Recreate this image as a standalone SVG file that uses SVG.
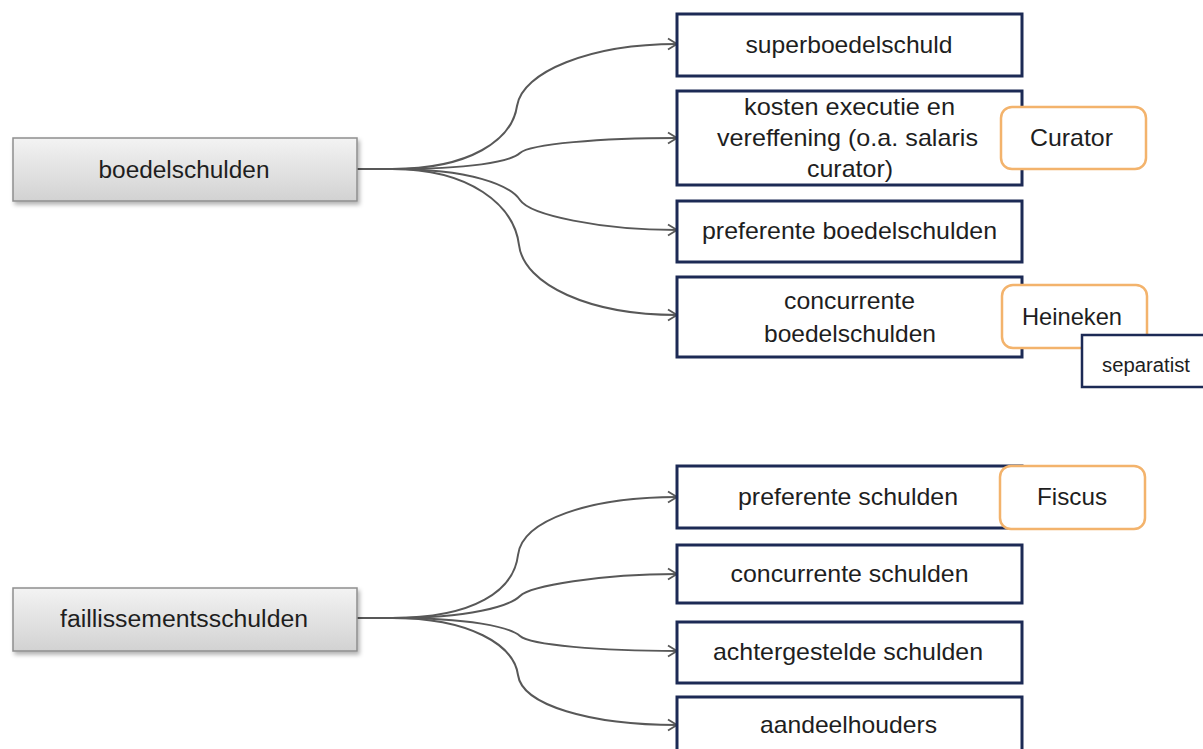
<svg xmlns="http://www.w3.org/2000/svg" width="1203" height="749" viewBox="0 0 1203 749">
<style>
text{font-family:"Liberation Sans",Arial,sans-serif;fill:#1e1e1e;text-anchor:middle}
.t{font-size:24px}
.s{font-size:20px}
.l{font-size:23px}
.nav{fill:#fff;stroke:#1c2a55;stroke-width:3}
.org{fill:#fff;stroke:#f3b36c;stroke-width:2.5}
.par{fill:url(#gr);stroke:#8e8e8e;stroke-width:1.5;filter:url(#sh)}
.c{fill:none;stroke:#585858;stroke-width:2;marker-end:url(#ar)}
</style>
<defs>
<linearGradient id="gr" x1="0" y1="0" x2="0" y2="1">
<stop offset="0" stop-color="#f3f3f3"/>
<stop offset="1" stop-color="#d2d2d2"/>
</linearGradient>
<filter id="sh" x="-5%" y="-10%" width="115%" height="140%">
<feDropShadow dx="2" dy="3" stdDeviation="2" flood-color="#000" flood-opacity="0.3"/>
</filter>
<marker id="ar" markerUnits="userSpaceOnUse" markerWidth="14" markerHeight="14" viewBox="0 0 14 14" refX="12" refY="7" orient="auto">
<path d="M3,1.5 L12,7 L3,12.5" fill="none" stroke="#585858" stroke-width="1.8"/>
</marker>
</defs>
<rect width="1203" height="749" fill="#fff"/>
<g id="connectors">
<path class="c" d="M357,169 L392,169 C470,169 512,140 517,106 C522,72 590,44 677,44"/>
<path class="c" d="M357,169 L392,169 C470,169 510,162 520,153 C530,144 600,138 677,138"/>
<path class="c" d="M357,169 L392,169 C470,169 510,185 520,200 C530,215 600,230 677,230"/>
<path class="c" d="M357,169 L392,169 C470,169 514,205 519,245 C524,285 590,315 677,315"/>
<path class="c" d="M357,618 L392,618 C475,618 514,590 518,555 C522,520 590,497 677,497"/>
<path class="c" d="M357,618 L392,618 C470,618 510,606 520,596 C530,586 600,574 677,574"/>
<path class="c" d="M357,618 L392,618 C470,618 510,627 520,636 C530,645 600,651 677,651"/>
<path class="c" d="M357,618 L392,618 C470,618 514,645 518,675 C522,705 590,725 677,725"/>
</g>
<g id="boedelschulden">
<rect class="par" x="13" y="138" width="344" height="63"/>
<text class="l" x="184" y="178" textLength="171" lengthAdjust="spacingAndGlyphs">boedelschulden</text>
</g>
<g id="faillissementsschulden">
<rect class="par" x="13" y="588" width="344" height="63"/>
<text class="l" x="184" y="627" textLength="248" lengthAdjust="spacingAndGlyphs">faillissementsschulden</text>
</g>
<g id="superboedelschuld">
<rect class="nav" x="677" y="14" width="345" height="62"/>
<text class="t" x="849" y="53" textLength="207" lengthAdjust="spacingAndGlyphs">superboedelschuld</text>
</g>
<g id="kosten">
<rect class="nav" x="677" y="91" width="345" height="94"/>
<text class="t" x="849.5" y="115" textLength="211" lengthAdjust="spacingAndGlyphs">kosten executie en</text>
<text class="t" x="847.5" y="146" textLength="261" lengthAdjust="spacingAndGlyphs">vereffening (o.a. salaris</text>
<text class="t" x="850" y="177" textLength="86" lengthAdjust="spacingAndGlyphs">curator)</text>
</g>
<g id="curator">
<rect class="org" x="1001" y="107" width="145" height="62" rx="11"/>
<text class="t" x="1071.5" y="146" textLength="83" lengthAdjust="spacingAndGlyphs">Curator</text>
</g>
<g id="preferente-boedelschulden">
<rect class="nav" x="677" y="201" width="345" height="61"/>
<text class="t" x="849.5" y="239" textLength="295" lengthAdjust="spacingAndGlyphs">preferente boedelschulden</text>
</g>
<g id="concurrente-boedelschulden">
<rect class="nav" x="677" y="277" width="345" height="80"/>
<text class="t" x="849.5" y="309" textLength="131" lengthAdjust="spacingAndGlyphs">concurrente</text>
<text class="t" x="850" y="342" textLength="172" lengthAdjust="spacingAndGlyphs">boedelschulden</text>
</g>
<g id="heineken">
<rect class="org" x="1002" y="285" width="145" height="63" rx="11"/>
<text class="t" x="1072" y="325" textLength="100" lengthAdjust="spacingAndGlyphs">Heineken</text>
</g>
<g id="separatist">
<rect class="nav" x="1082" y="335" width="130" height="52" style="stroke-width:2.5"/>
<text class="s" x="1146" y="372" textLength="88" lengthAdjust="spacingAndGlyphs">separatist</text>
</g>
<g id="preferente-schulden">
<rect class="nav" x="677" y="466" width="345" height="62"/>
<text class="t" x="848" y="505" textLength="220" lengthAdjust="spacingAndGlyphs">preferente schulden</text>
</g>
<g id="fiscus">
<rect class="org" x="1000" y="466" width="145" height="63" rx="11"/>
<text class="t" x="1072" y="505" textLength="70" lengthAdjust="spacingAndGlyphs">Fiscus</text>
</g>
<g id="concurrente-schulden">
<rect class="nav" x="677" y="545" width="345" height="58"/>
<text class="t" x="849.5" y="582" textLength="238" lengthAdjust="spacingAndGlyphs">concurrente schulden</text>
</g>
<g id="achtergestelde-schulden">
<rect class="nav" x="677" y="622" width="345" height="61"/>
<text class="t" x="848" y="660" textLength="270" lengthAdjust="spacingAndGlyphs">achtergestelde schulden</text>
</g>
<g id="aandeelhouders">
<rect class="nav" x="677" y="697" width="345" height="70"/>
<text class="t" x="848.5" y="733" textLength="177" lengthAdjust="spacingAndGlyphs">aandeelhouders</text>
</g>
</svg>
